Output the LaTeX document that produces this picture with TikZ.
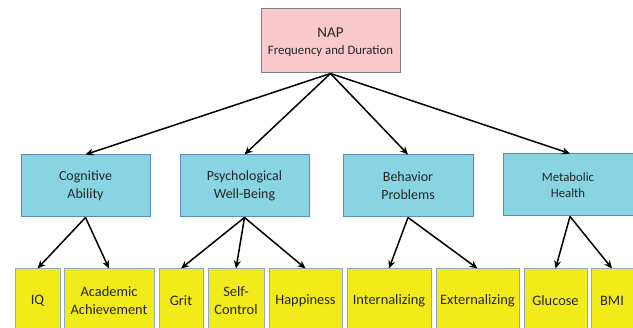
\documentclass[tikz,border=0pt]{standalone}
\usepackage{fontspec}
\setmainfont{Carlito}
\usetikzlibrary{arrows.meta}
\definecolor{napfill}{HTML}{F9C9CB}
\definecolor{napdraw}{HTML}{7F7F7F}
\definecolor{midfill}{HTML}{89D4E2}
\definecolor{middraw}{HTML}{5B8DB8}
\definecolor{leaffill}{HTML}{F2EA19}
\definecolor{leafdraw}{HTML}{8FA9C4}
\definecolor{txt}{HTML}{262626}
\tikzset{
  napbox/.style={draw=napdraw, fill=napfill, line width=1pt, minimum width=139pt, minimum height=64pt, align=center, text=txt, inner sep=0pt},
  midbox/.style={draw=middraw, fill=midfill, line width=1pt, minimum width=129pt, minimum height=62pt, align=center, text=txt, inner sep=0pt, font=\fontsize{14}{18}\selectfont},
  leafbox/.style={draw=leafdraw, fill=leaffill, line width=1pt, minimum height=64pt, align=center, text=txt, inner sep=0pt, font=\fontsize{14.4}{18}\selectfont},
  conn/.style={line width=1.5pt, -{Stealth[length=8pt,width=7pt]}}
}
\begin{document}
\begin{tikzpicture}[x=1pt,y=-1pt]
\useasboundingbox (0,0) rectangle (633,328);
\clip (0,0) rectangle (633,328);
\fill[white] (0,0) rectangle (633,328);
\node[napbox] (nap) at (330.5,41) {};
\node[text=txt, font=\fontsize{15}{19}\selectfont, inner sep=0pt] (naptitle) at (330.5,33) {NAP};
\node[text=txt, font=\fontsize{12.8}{17}\selectfont, inner sep=0pt] (napsub) at (330.5,51) {Frequency and Duration};
\node[midbox] (cog) at (85.5,186) {Cognitive\\Ability};
\node[midbox] (psy) at (244.5,186) {Psychological\\Well-Being};
\node[midbox, minimum width=130pt] (beh) at (408,186) {Behavior\\Problems};
\node[midbox, minimum width=134pt, font=\fontsize{12.8}{16}\selectfont] (met) at (570,185) {\hspace*{-4pt}Metabolic\\\hspace*{-4pt}Health};
\node[leafbox, minimum width=45pt] (iq) at (37.5,301) {IQ};
\node[leafbox, minimum width=90pt] (aca) at (109,301) {Academic\\Achievement};
\node[leafbox, minimum width=44pt] (grit) at (181,301) {Grit};
\node[leafbox, minimum width=56pt] (self) at (236,301) {Self-\\Control};
\node[leafbox, minimum width=73pt] (hap) at (305.5,301) {Happiness};
\node[leafbox, minimum width=84pt] (int) at (389,301) {Internalizing};
\node[leafbox, minimum width=83pt] (ext) at (477.5,301) {Externalizing};
\node[leafbox, minimum width=63pt] (glu) at (555.5,301) {Glucose};
\node[leafbox, minimum width=42pt] (bmi) at (612,301) {BMI};
\foreach \c in {cog,psy,beh,met} \draw[conn] (nap.south) -- (\c.north);
\draw[conn] (cog.south) -- (iq.north);
\draw[conn] (cog.south) -- (aca.north);
\draw[conn] (psy.south) -- (grit.north);
\draw[conn] (psy.south) -- (self.north);
\draw[conn] (psy.south) -- (hap.north);
\draw[conn] (beh.south) -- (int.north);
\draw[conn] (beh.south) -- (ext.north);
\draw[conn] (met.south) -- (glu.north);
\draw[conn] (met.south) -- (bmi.north);
\end{tikzpicture}
\end{document}
